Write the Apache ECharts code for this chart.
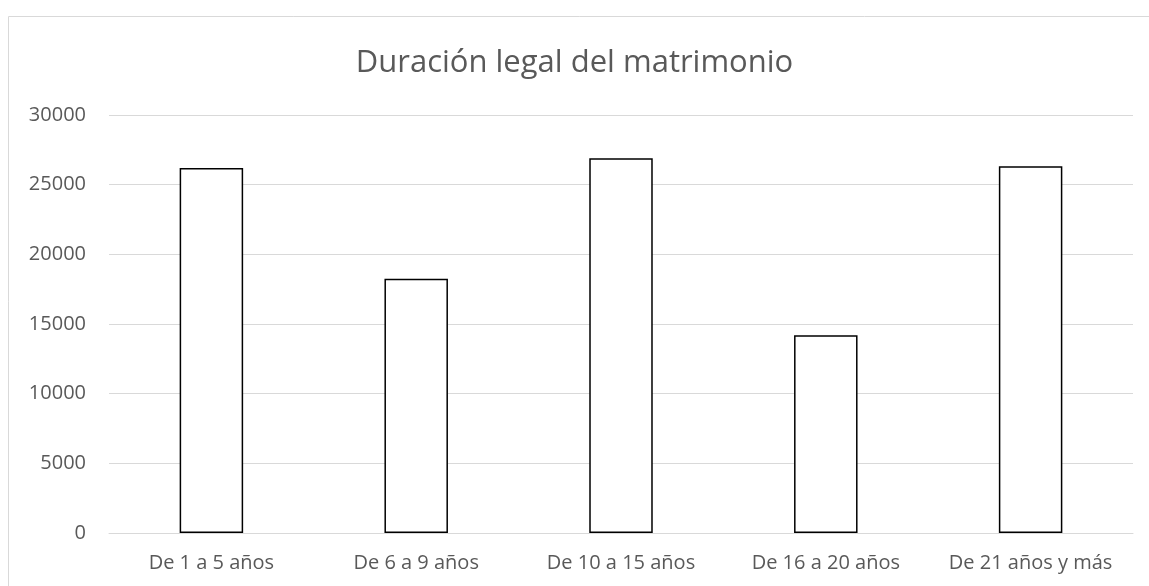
<!DOCTYPE html>
<html>
<head>
    <meta charset="UTF-8">
    <title>Duración legal del matrimonio</title>
    <script type="text/javascript" src="https://cdn.jsdelivr.net/npm/echarts@6/dist/echarts.min.js"></script>
    <style>
        html, body { margin: 0; padding: 0; background: #fff; }
        #main { width: 1149px; height: 586px; }
    </style>
</head>
<body>
<div id="main"></div>
<script type="text/javascript">
    // datos
    var categorias = ['De 1 a 5 años', 'De 6 a 9 años', 'De 10 a 15 años', 'De 16 a 20 años', 'De 21 años y más'];
    var valores = [26200, 18250, 26900, 14200, 26330];
    var yTicks = [0, 5000, 10000, 15000, 20000, 25000, 30000];

    var fuente = '"Open Sans", "Noto Sans", sans-serif';
    var myChart = echarts.init(document.getElementById('main'));
    var option = {
        animation: false,
        textStyle: { fontFamily: fuente },
        title: {
            text: 'Duración legal del matrimonio',
            left: 'center',
            top: 43,
            textStyle: { fontFamily: fuente, fontSize: 31, fontWeight: 'normal', color: '#595959' }
        },
        graphic: [{
            type: 'rect',
            shape: { x: 8.5, y: 16.5, width: 1200, height: 700 },
            style: { fill: 'none', stroke: '#d9d9d9', lineWidth: 1 },
            silent: true,
            z: -1
        }],
        grid: { left: 109, right: 16, top: 115, bottom: 53 },
        xAxis: {
            type: 'category',
            data: categorias,
            axisLine: { lineStyle: { color: '#d9d9d9' } },
            axisTick: { show: false },
            axisLabel: { color: '#595959', fontSize: 20, margin: 20, interval: 0, hideOverlap: false }
        },
        yAxis: {
            type: 'value',
            min: yTicks[0],
            max: yTicks[yTicks.length - 1],
            interval: 5000,
            axisLine: { show: false },
            axisTick: { show: false },
            axisLabel: {
                color: '#595959', fontSize: 20, margin: 23,
                formatter: function (v) { return String(v); }
            },
            splitLine: { lineStyle: { color: '#d9d9d9', width: 1 } }
        },
        series: [{
            type: 'bar',
            data: valores,
            barWidth: '31%',
            itemStyle: { color: '#ffffff', borderColor: '#000000', borderWidth: 1.5 }
        }]
    };
    myChart.setOption(option);
</script>
</body>
</html>
